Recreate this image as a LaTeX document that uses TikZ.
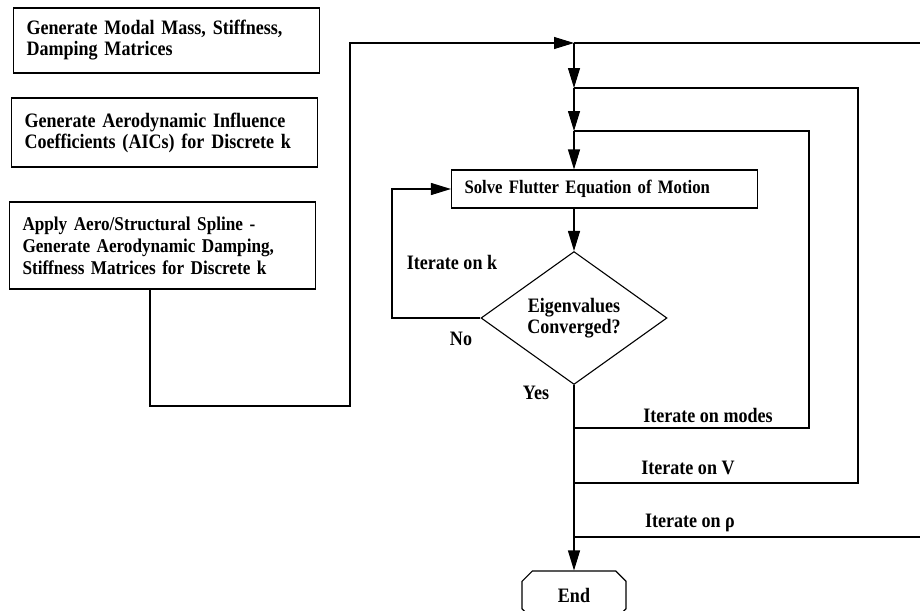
\documentclass[tikz,border=0pt]{standalone}
\usepackage{fontspec}
\setmainfont[FakeStretch=0.88]{Liberation Serif}
\usetikzlibrary{arrows.meta,shapes.geometric,shapes.misc}
\begin{document}
\begin{tikzpicture}[x=1pt,y=-1pt,
  line width=1.1pt,
  every node/.style={font=\fontsize{20.5}{21}\selectfont\bfseries},
  procbox/.style={draw, rectangle, text width=280pt, inner xsep=13pt, inner ysep=0pt, align=left},
  decision/.style={draw, diamond, minimum width=186pt, minimum height=118pt, inner sep=0pt, align=center},
  terminal/.style={draw, chamfered rectangle, chamfered rectangle xsep=9pt, minimum width=104pt, minimum height=48pt, inner sep=0pt},
  arr/.style={-{Triangle[length=20pt,width=12pt]}},
  lbl/.style={inner sep=0pt}
]
\useasboundingbox (0,0) rectangle (920,610);
\clip (0,0) rectangle (920,610);

\node[procbox, minimum height=65pt] (b1) at (166.5,40.5) {Generate Modal Mass, Stiffness,\\ Damping Matrices};
\node[procbox, minimum height=69pt] (b2) at (164.5,132.5) {Generate Aerodynamic Influence\\ Coefficients (AICs) for Discrete k};
\node[procbox, font=\fontsize{19.5}{22}\selectfont\bfseries, minimum height=87pt] (b3) at (162.5,245.5) {Apply Aero/Structural Spline -\\ Generate Aerodynamic Damping,\\ Stiffness Matrices for Discrete k};
\node[procbox, font=\fontsize{19}{20}\selectfont\bfseries, minimum height=38pt] (solve) at (604.5,189) {Solve Flutter Equation of Motion};
\node[decision] (dia) at (574,318) {Eigenvalues\\ Converged?};
\node[terminal] (end) at (574,595) {End};

\coordinate (c1) at (150,406);
\coordinate (c2) at (350,406);
\coordinate (c3) at (350,43);
\coordinate (top) at (574,43);
\coordinate (rtop) at (920,43);
\coordinate (j1) at (574,88);
\coordinate (j2) at (574,131);
\coordinate (v1) at (858,88);
\coordinate (v2) at (858,483);
\coordinate (m1) at (809,131);
\coordinate (m2) at (809,428);
\coordinate (kx) at (392,0);
\coordinate (rho) at (920,537);

\draw[arr] (b3.south -| c1) -- (c1) -- (c2) -- (c3) -- (top);
\draw (top) -- (rtop);
\draw[arr] (top) -- (j1);
\draw[arr] (j1) -- (j2);
\draw[arr] (j2) -- (solve.north -| j2);
\draw (j1) -- (v1) -- (v2) -- (v2 -| j1);
\draw (j2) -- (m1) -- (m2) -- (m2 -| j2);
\draw[arr] (solve.south -| dia.north) -- (dia.north);
\draw[arr] (dia.west) -- (dia.west -| kx) -- (solve.west -| kx) -- (solve.west);
\draw[arr] (dia.south) -- (end.north);
\draw (dia.south |- rho) -- (rho);

\node[lbl] (lk) at (452,262) {Iterate on k};
\node[lbl] (lno) at (461,339) {No};
\node[lbl] (lyes) at (536,393) {Yes};
\node[lbl] (lm) at (708,415) {Iterate on modes};
\node[lbl] (lv) at (688,468) {Iterate on V};
\node[lbl] (lr) at (690,523) {Iterate on ρ};
\end{tikzpicture}
\end{document}
